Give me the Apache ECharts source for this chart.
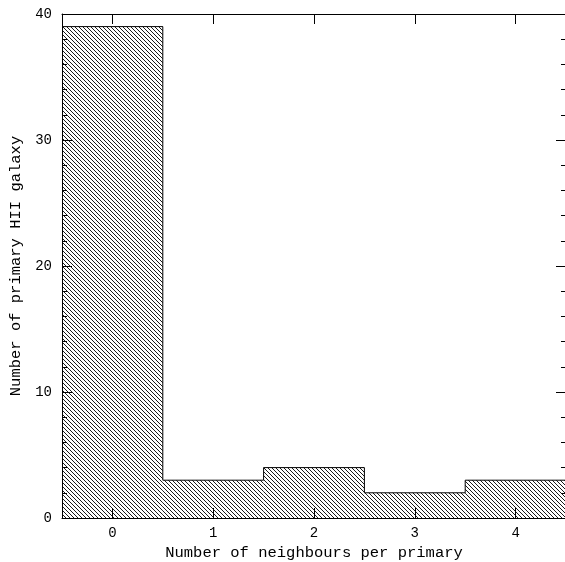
<!DOCTYPE html>
<html><head><meta charset="utf-8">
<script src="https://cdn.jsdelivr.net/npm/echarts@6/dist/echarts.min.js"></script>
<style>html,body{margin:0;padding:0;background:#fff}#c{width:565px;height:562px}</style>
</head><body><div id="c"></div>
<script>
const categories = ['0', '1', '2', '3', '4'];
const counts = [39, 3, 4, 2, 3];
const yTicks = [0, 10, 20, 30, 40];
const xTitle = 'Number of neighbours per primary';
const yTitle = 'Number of primary HII galaxy';

function hatch() {
  const s = 4, c = document.createElement('canvas');
  c.width = s; c.height = s;
  const g = c.getContext('2d');
  g.strokeStyle = '#000'; g.lineWidth = 0.9;
  g.beginPath();
  for (let k = -1; k <= 1; k++) { g.moveTo(k * s, 0); g.lineTo(k * s + s, s); }
  g.stroke();
  return c;
}

const outline = [];
counts.forEach((v, i) => { outline.push([i - 0.5, v]); outline.push([i + 0.5, v]); });

const font = 'Liberation Mono';
const chart = echarts.init(document.getElementById('c'));
const axisBase = {
  axisLine: { show: true, onZero: false, lineStyle: { color: '#000', width: 1 } },
  splitLine: { show: false }
};
chart.setOption({
  animation: false,
  grid: { left: 62, top: 14, width: 504, height: 504, containLabel: false, outerBoundsMode: 'none' },
  xAxis: [
    Object.assign({}, axisBase, {
      type: 'category', data: categories, position: 'bottom',
      axisTick: { show: true, inside: true, alignWithLabel: true, length: 10, lineStyle: { color: '#000' } },
      axisLabel: { color: '#000', fontFamily: font, fontSize: 14, margin: 8 },
      name: xTitle, nameLocation: 'middle', nameGap: 22,
      nameTextStyle: { color: '#000', fontFamily: font, fontSize: 15.5 }
    }),
    Object.assign({}, axisBase, {
      type: 'category', data: categories, position: 'top',
      axisTick: { show: true, inside: true, alignWithLabel: true, length: 10, lineStyle: { color: '#000' } },
      axisLabel: { show: false }
    }),
    { type: 'value', min: -0.5, max: 4.5, show: false }
  ],
  yAxis: [
    Object.assign({}, axisBase, {
      type: 'value', min: yTicks[0], max: yTicks[yTicks.length - 1], interval: 10, position: 'left',
      axisTick: { show: true, inside: true, length: 10, lineStyle: { color: '#000' } },
      minorTick: { show: true, splitNumber: 5, length: 5, lineStyle: { color: '#000' } },
      axisLabel: { color: '#000', fontFamily: font, fontSize: 14, margin: 10 },
      name: yTitle, nameLocation: 'middle', nameGap: 34,
      nameTextStyle: { color: '#000', fontFamily: font, fontSize: 15.5 }
    }),
    Object.assign({}, axisBase, {
      type: 'value', min: yTicks[0], max: yTicks[yTicks.length - 1], interval: 10, position: 'right',
      axisTick: { show: true, inside: true, length: 10, lineStyle: { color: '#000' } },
      minorTick: { show: true, splitNumber: 5, length: 5, lineStyle: { color: '#000' } },
      axisLabel: { show: false }
    })
  ],
  series: [
    {
      type: 'bar', data: counts, xAxisIndex: 0, yAxisIndex: 0,
      barCategoryGap: '0%',
      itemStyle: { color: { image: hatch(), repeat: 'repeat' } },
      silent: true
    },
    {
      type: 'line', data: outline, xAxisIndex: 2, yAxisIndex: 0,
      symbol: 'none', lineStyle: { color: '#000', width: 1 }, silent: true
    }
  ]
});
</script></body></html>
